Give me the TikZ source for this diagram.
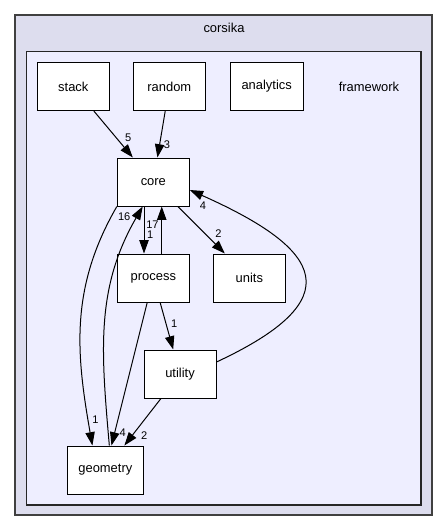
\documentclass[tikz,border=0pt]{standalone}
\usepackage{fontspec}
\setmainfont{Liberation Sans}
\usetikzlibrary{arrows.meta,positioning}
\definecolor{outerfill}{HTML}{DDDDEE}
\definecolor{innerfill}{HTML}{EEEEFF}
\definecolor{boxline}{HTML}{404040}

\begin{document}
\begin{tikzpicture}[>={Triangle[length=10pt,width=7pt]},node distance=72pt,on grid,auto,line width=0.75pt,
    dir/.style={draw,line width=0.75pt,fill=white,minimum width=54pt,minimum height=36pt,inner xsep=8.5pt,font=\fontsize{9.7}{11}\selectfont},
    title/.style={font=\fontsize{9.7}{11}\selectfont},
    num/.style={font=\fontsize{8.3}{9}\selectfont,inner sep=2pt}]
  \useasboundingbox (0,0) rectangle (336pt,-399pt);
  % clusters
  \draw[fill=outerfill,draw=boxline,line width=1.3pt] (11.25pt,-11.25pt) rectangle (323.75pt,-386.25pt);
  \draw[fill=innerfill,draw=black!85,line width=1.1pt] (19.9pt,-38.6pt) rectangle (315.6pt,-378.75pt);
  \node[title] (corsika) at (168pt,-20.6pt) {corsika};

  \node[dir]   (stack)     at (55pt,-64.9pt)             {stack};
  \node[dir]   (random)    [right=of stack]               {random};
  \node[dir]   (analytics) [right=73pt of random]         {analytics};
  \node[title] (framework) [right=76.75pt of analytics]   {framework};
  \node[dir]   (core)      [below right=71.6pt and 60pt of stack] {core};
  \node[dir]   (process)   [below=of core]                {process};
  \node[dir]   (units)     [right=of process]             {units};
  \node[dir]   (utility)   [below right=72pt and 20pt of process] {utility};
  \node[dir]   (geometry)  [below left=72pt and 56pt of utility]  {geometry};

  \path[->,every node/.style=num]
    (stack)   edge node[pos=0.72] {5} (core)
    (random)  edge node[pos=0.58] {3} (core)
    (core)    edge node[pos=0.73] {2} (units)
    ([xshift=-7pt]core.south) edge node[pos=0.6] {1} ([xshift=-7pt]process.north)
    ([xshift=6.3pt]process.north) edge node[pos=0.62] {17} ([xshift=6.3pt]core.south)
    (process) edge node[pos=0.6] {1} (utility)
              edge node[pos=0.86] {4} (geometry)
    (utility) edge node[pos=0.63] {2} (geometry)
    (core.south west) edge[out=-120,in=100] node[pos=0.93] {1} ([xshift=-9.7pt]geometry.north)
    ([xshift=3pt]geometry.north) edge[out=95,in=-120] node[pos=0.93] {16} ([xshift=-8pt]core.south)
    ([yshift=9pt]utility.east) edge[out=25,in=-24,looseness=2.17] node[pos=0.95] {4} ([yshift=-6pt]core.east);
\end{tikzpicture}
\end{document}
